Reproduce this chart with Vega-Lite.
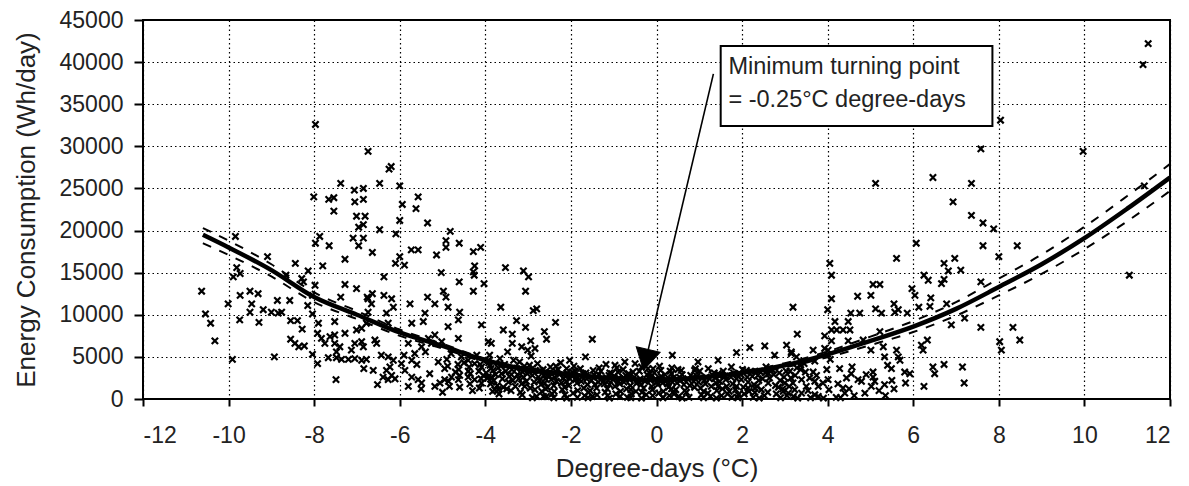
{
  "$schema": "https://vega.github.io/schema/vega-lite/v6.json",
  "width": 1027,
  "height": 379,
  "autosize": {"type": "none"},
  "padding": {"left": 143, "top": 20, "right": 19, "bottom": 87},
  "background": "white",
  "config": {
    "view": {"stroke": "black", "strokeWidth": 2},
    "axis": {
      "grid": true,
      "gridColor": "black",
      "gridDash": [1.5, 3],
      "gridWidth": 1.2,
      "gridOpacity": 1,
      "domain": false,
      "tickColor": "black",
      "tickWidth": 2,
      "labelFont": "Liberation Sans",
      "labelFontSize": 23,
      "labelColor": "#222",
      "labelExpr": "datum.value + ''",
      "titleFont": "Liberation Sans",
      "titleFontSize": 26,
      "titleFontWeight": "normal",
      "titleColor": "#222"
    }
  },
  "datasets": {
    "pts": [
      {"x":-7.97,"y":32600},{"x":-6.74,"y":29400},{"x":-6.25,"y":27300},{"x":-6.2,"y":27600},{"x":-7.38,"y":25600},{"x":-7.06,"y":24800},{"x":-6.85,"y":25000},{"x":-6.47,"y":25600},{"x":-6.0,"y":25300},{"x":-8.01,"y":24000},{"x":-7.66,"y":23700},{"x":-7.54,"y":23900},{"x":-7.05,"y":23400},{"x":-6.85,"y":23700},{"x":-5.94,"y":23100},{"x":-5.57,"y":24000},{"x":-5.62,"y":22600},{"x":-7.54,"y":22300},{"x":-7.01,"y":21700},{"x":-6.81,"y":21700},{"x":-6.96,"y":20400},{"x":-6.85,"y":20700},{"x":-6.0,"y":21200},{"x":-5.35,"y":20900},{"x":-6.47,"y":20100},{"x":-7.87,"y":19300},{"x":-7.97,"y":18500},{"x":-7.65,"y":18200},{"x":-7.09,"y":19100},{"x":-6.85,"y":19100},{"x":-6.96,"y":18200},{"x":-6.09,"y":19600},{"x":-6.64,"y":17400},{"x":-5.73,"y":17700},{"x":-5.57,"y":17700},{"x":-6.0,"y":16900},{"x":-6.1,"y":16100},{"x":-5.89,"y":15900},{"x":-5.14,"y":17100},{"x":-4.92,"y":18800},{"x":-4.92,"y":18000},{"x":-4.82,"y":19900},{"x":-4.61,"y":18500},{"x":-4.28,"y":17500},{"x":-4.11,"y":18000},{"x":-4.28,"y":15100},{"x":-4.25,"y":15800},{"x":-4.26,"y":14700},{"x":-4.03,"y":13700},{"x":-4.28,"y":12800},{"x":-4.61,"y":13900},{"x":-5.03,"y":15000},{"x":-4.98,"y":12800},{"x":-4.92,"y":12100},{"x":-5.35,"y":12100},{"x":-6.37,"y":14500},{"x":-7.28,"y":16600},{"x":-7.8,"y":15800},{"x":-7.28,"y":13600},{"x":-7.01,"y":13100},{"x":-6.64,"y":12500},{"x":-6.37,"y":12300},{"x":-7.38,"y":12100},{"x":-6.76,"y":12100},{"x":-8.44,"y":16100},{"x":-9.09,"y":16900},{"x":-9.84,"y":19300},{"x":-10.63,"y":12800},{"x":-9.73,"y":12300},{"x":-9.5,"y":12800},{"x":-9.31,"y":12500},{"x":-9.89,"y":14500},{"x":-9.81,"y":15600},{"x":-9.73,"y":14900},{"x":-8.66,"y":14700},{"x":-8.14,"y":15200},{"x":-8.29,"y":14300},{"x":-8.25,"y":13900},{"x":-7.98,"y":13500},
      {"x":-10.01,"y":11300},{"x":-9.46,"y":11300},{"x":-9.5,"y":10300},{"x":-10.54,"y":10100},{"x":-10.42,"y":9000},{"x":-10.32,"y":6900},{"x":-9.91,"y":4700},{"x":-9.74,"y":9400},{"x":-9.29,"y":9100},{"x":-9.19,"y":10600},{"x":-8.86,"y":11700},{"x":-8.57,"y":11700},{"x":-9.0,"y":10300},{"x":-8.84,"y":10200},{"x":-8.76,"y":10300},{"x":-8.55,"y":9300},{"x":-8.39,"y":9300},{"x":-8.28,"y":8300},{"x":-8.55,"y":7100},{"x":-8.45,"y":6600},{"x":-8.36,"y":6200},{"x":-8.23,"y":6300},{"x":-8.93,"y":5000},{"x":-8.04,"y":5300},{"x":-7.92,"y":4200},{"x":-7.49,"y":2300},{"x":-8.15,"y":11100},{"x":-8.04,"y":10100},{"x":-8.04,"y":12300},{"x":-7.9,"y":9000},{"x":-7.92,"y":7800},{"x":-7.83,"y":7200},{"x":-7.75,"y":6600},{"x":-7.52,"y":9200},{"x":-7.52,"y":7600},{"x":-7.63,"y":7400},{"x":-7.52,"y":6600},{"x":-7.4,"y":6200},{"x":-7.48,"y":5600},{"x":-7.67,"y":4900},{"x":-7.48,"y":4900},{"x":-7.36,"y":4700},{"x":-7.2,"y":4700},{"x":-7.05,"y":4800},{"x":-6.89,"y":4600},{"x":-6.78,"y":4700},{"x":-7.28,"y":7800},{"x":-7.05,"y":6600},{"x":-6.89,"y":6800},{"x":-6.85,"y":6200},{"x":-7.13,"y":5800},{"x":-7.01,"y":8200},{"x":-6.89,"y":8400},{"x":-6.78,"y":9000},{"x":-6.74,"y":10300},{"x":-6.74,"y":11900},{"x":-6.66,"y":11300},{"x":-6.19,"y":11900},{"x":-6.15,"y":10900},{"x":-6.31,"y":10200},{"x":-6.27,"y":9000},{"x":-6.58,"y":7000},{"x":-6.54,"y":6600},{"x":-6.43,"y":5200},{"x":-6.27,"y":5000},{"x":-6.15,"y":4600},{"x":-6.23,"y":3800},{"x":-6.31,"y":3400},{"x":-6.19,"y":2800},{"x":-6.11,"y":2400},{"x":-6.39,"y":2600},{"x":-6.27,"y":2300},{"x":-6.52,"y":1700},{"x":-6.84,"y":3600},{"x":-6.62,"y":3400},{"x":-5.76,"y":11300},{"x":-5.72,"y":9000},{"x":-5.45,"y":9200},{"x":-5.41,"y":10200},{"x":-5.18,"y":11300},{"x":-4.87,"y":10900},{"x":-4.6,"y":10300},{"x":-4.63,"y":9400},{"x":-4.87,"y":8600},{"x":-4.63,"y":7200},{"x":-5.18,"y":7600},{"x":-5.33,"y":7200},{"x":-5.26,"y":6600},{"x":-5.02,"y":6800},{"x":-5.8,"y":6600},{"x":-5.65,"y":5400},{"x":-5.49,"y":6200},{"x":-5.72,"y":4600},{"x":-5.96,"y":4200},{"x":-5.88,"y":3400},{"x":-5.72,"y":2600},{"x":-5.57,"y":2300},{"x":-5.8,"y":1500},{"x":-5.49,"y":1900},{"x":-5.18,"y":1500},{"x":-5.06,"y":1900},{"x":-4.95,"y":2300},{"x":-4.79,"y":2600},{"x":-4.63,"y":2300},{"x":-4.4,"y":2600},{"x":-4.25,"y":2300},{"x":-4.09,"y":1900},{"x":-3.93,"y":2600},{"x":-3.78,"y":1100},{"x":-4.56,"y":5000},{"x":-4.4,"y":4600},{"x":-4.25,"y":4200},{"x":-4.09,"y":3800},{"x":-3.93,"y":4600},{"x":-3.82,"y":3400},{"x":-3.93,"y":6800},{"x":-4.09,"y":8800},{"x":-3.86,"y":6600},
      {"x":-5.9,"y":5200},{"x":-5.6,"y":4100},{"x":-5.4,"y":5600},{"x":-5.3,"y":3000},{"x":-5.1,"y":4400},{"x":-4.95,"y":3600},{"x":-4.8,"y":5400},{"x":-4.7,"y":3200},{"x":-4.5,"y":4300},{"x":-4.35,"y":3000},{"x":-4.2,"y":5200},{"x":-4.15,"y":3300},{"x":-4.05,"y":2800},{"x":-5.5,"y":1200},{"x":-5.0,"y":800},{"x":-4.6,"y":1400},{"x":-4.3,"y":1000},
      {"x":-3.53,"y":15600},{"x":-3.11,"y":15200},{"x":-2.99,"y":14500},{"x":-3.06,"y":12800},{"x":-3.64,"y":10900},{"x":-2.88,"y":10500},{"x":-2.8,"y":10700},{"x":-3.27,"y":9300},{"x":-2.36,"y":9100},{"x":-3.58,"y":8200},{"x":-3.37,"y":7700},{"x":-3.06,"y":8500},{"x":-2.62,"y":8000},{"x":-2.57,"y":7100},{"x":-3.37,"y":6600},{"x":-3.15,"y":6200},{"x":-2.94,"y":6900},{"x":-2.84,"y":6000},{"x":-3.01,"y":5800},{"x":-1.5,"y":7100},{"x":-1.66,"y":5000},{"x":-2.03,"y":4600},{"x":0.37,"y":5200},{"x":0.97,"y":4400},{"x":1.44,"y":4600},{"x":1.87,"y":5500},{"x":1.75,"y":3800},{"x":3.19,"y":10900},{"x":2.18,"y":6100},{"x":2.53,"y":6300},{"x":2.76,"y":5200},{"x":3.04,"y":6400},{"x":3.15,"y":5600},{"x":3.27,"y":5000},{"x":3.29,"y":7700},{"x":-0.97,"y":4000},{"x":-0.74,"y":4400},{"x":-0.08,"y":3600},{"x":0.35,"y":3000},{"x":0.58,"y":3400},{"x":0.89,"y":3400},{"x":1.21,"y":3600},{"x":1.44,"y":3000},{"x":1.44,"y":1500},{"x":1.87,"y":1500},{"x":2.14,"y":1300},{"x":2.3,"y":1300},{"x":2.61,"y":1900},{"x":2.96,"y":900},{"x":3.19,"y":1900},{"x":-3.7,"y":1100},{"x":-3.08,"y":1500},{"x":-2.8,"y":300},{"x":-2.57,"y":300},{"x":-3.86,"y":2600},
      {"x":8.04,"y":33100},{"x":7.58,"y":29700},{"x":6.46,"y":26300},{"x":5.12,"y":25600},{"x":7.36,"y":25600},{"x":6.93,"y":23400},{"x":7.36,"y":21800},{"x":7.63,"y":20900},{"x":7.88,"y":20200},{"x":6.07,"y":18500},{"x":7.63,"y":18200},{"x":8.43,"y":18200},{"x":5.61,"y":16700},{"x":6.97,"y":16700},{"x":8.0,"y":16900},
      {"x":4.05,"y":16100},{"x":4.09,"y":14700},{"x":6.72,"y":16100},{"x":7.11,"y":15300},{"x":6.82,"y":15200},{"x":6.72,"y":14200},{"x":6.66,"y":13700},{"x":6.25,"y":14700},{"x":6.35,"y":14100},{"x":7.58,"y":13900},{"x":5.06,"y":13600},{"x":5.22,"y":13600},{"x":4.7,"y":12200},{"x":5.01,"y":12300},{"x":4.09,"y":11900},{"x":4.0,"y":10600},{"x":5.97,"y":13100},{"x":6.04,"y":12300},{"x":6.41,"y":12000},{"x":6.39,"y":11000},{"x":5.55,"y":11300},{"x":5.65,"y":10600},{"x":5.57,"y":10300},{"x":5.12,"y":10700},{"x":5.26,"y":10200},{"x":5.86,"y":10200},{"x":6.13,"y":10900},{"x":6.78,"y":11300},{"x":4.54,"y":10200},{"x":4.75,"y":10200},{"x":7.2,"y":9600},{"x":6.89,"y":8800},{"x":7.58,"y":8500},{"x":8.33,"y":8500},{"x":4.17,"y":9200},{"x":4.09,"y":8200},{"x":4.21,"y":8200},{"x":4.36,"y":8200},{"x":4.52,"y":8200},{"x":4.48,"y":9200},{"x":3.93,"y":7500},{"x":4.09,"y":6900},{"x":4.48,"y":6900},{"x":4.83,"y":7000},{"x":5.22,"y":8000},{"x":6.33,"y":7000},{"x":6.19,"y":6400},{"x":6.23,"y":5800},{"x":8.02,"y":6800},{"x":8.06,"y":5800},{"x":8.49,"y":7000},{"x":3.15,"y":5400},{"x":3.66,"y":5800},{"x":3.93,"y":6000},{"x":4.57,"y":3800},{"x":4.01,"y":5800},{"x":5.01,"y":5800},{"x":5.3,"y":6200},{"x":5.33,"y":5000},{"x":5.61,"y":5800},{"x":5.65,"y":5000},{"x":5.69,"y":4600},{"x":5.4,"y":4000},{"x":5.49,"y":3600},{"x":5.8,"y":3200},{"x":5.92,"y":3000},{"x":5.82,"y":1900},{"x":5.33,"y":1700},{"x":6.46,"y":3800},{"x":6.5,"y":3000},{"x":6.72,"y":4100},{"x":7.15,"y":3800},{"x":7.19,"y":1900},{"x":6.25,"y":1500},{"x":5.06,"y":3200},{"x":5.06,"y":2600},{"x":5.1,"y":2100},{"x":5.02,"y":1500},{"x":4.87,"y":700},{"x":4.79,"y":2100},{"x":4.71,"y":2300},{"x":4.44,"y":2500},{"x":4.36,"y":1300},{"x":4.4,"y":700},{"x":3.78,"y":1500},{"x":3.7,"y":2100},{"x":3.58,"y":2500},{"x":3.5,"y":1500},{"x":3.39,"y":700},{"x":3.23,"y":1100},{"x":3.0,"y":1900},{"x":4.01,"y":2300},{"x":3.7,"y":500},{"x":3.89,"y":1900},{"x":3.66,"y":3200},{"x":3.08,"y":700},
      {"x":11.49,"y":42200},{"x":11.37,"y":39700},{"x":9.97,"y":29400},{"x":11.4,"y":25300},{"x":11.05,"y":14700},
      {"x":-3.98,"y":3100},{"x":-3.92,"y":4300},{"x":-3.88,"y":1800},{"x":-3.95,"y":2500},{"x":-3.9,"y":5200},
      {"x":-3.76,"y":2900},{"x":-3.7,"y":3700},{"x":-3.72,"y":1600},{"x":-3.66,"y":4800},{"x":-3.8,"y":2200},{"x":-3.68,"y":600},
      {"x":-3.52,"y":3300},{"x":-3.46,"y":2000},{"x":-3.55,"y":4100},{"x":-3.44,"y":2700},{"x":-3.5,"y":1200},{"x":-3.48,"y":5600},
      {"x":-3.27,"y":3600},{"x":-3.22,"y":2400},{"x":-3.3,"y":1500},{"x":-3.2,"y":4400},{"x":-3.25,"y":2900},{"x":-3.18,"y":800},
      {"x":-3.02,"y":3000},{"x":-2.97,"y":4000},{"x":-3.04,"y":2100},{"x":-2.95,"y":1300},{"x":-2.99,"y":3500},{"x":-2.93,"y":5100},
      {"x":-2.76,"y":2600},{"x":-2.72,"y":3400},{"x":-2.7,"y":1700},{"x":-2.78,"y":4200},{"x":-2.68,"y":900},{"x":-2.74,"y":2200},
      {"x":-2.52,"y":3100},{"x":-2.46,"y":2300},{"x":-2.55,"y":1400},{"x":-2.48,"y":3800},{"x":-2.44,"y":600},{"x":-2.5,"y":2700},
      {"x":-2.27,"y":2900},{"x":-2.22,"y":1900},{"x":-2.3,"y":3500},{"x":-2.2,"y":1100},{"x":-2.24,"y":4300},{"x":-2.18,"y":2500},
      {"x":-2.02,"y":2400},{"x":-1.97,"y":3200},{"x":-2.05,"y":1600},{"x":-1.95,"y":700},{"x":-1.99,"y":2800},{"x":-1.93,"y":3900},
      {"x":-1.76,"y":2100},{"x":-1.72,"y":3000},{"x":-1.7,"y":1300},{"x":-1.78,"y":3600},{"x":-1.68,"y":400},{"x":-1.74,"y":2600},
      {"x":-1.52,"y":2200},{"x":-1.46,"y":2900},{"x":-1.55,"y":1000},{"x":-1.48,"y":3400},{"x":-1.44,"y":1700},{"x":-1.5,"y":300},
      {"x":-1.27,"y":2500},{"x":-1.22,"y":1800},{"x":-1.3,"y":3300},{"x":-1.2,"y":800},{"x":-1.24,"y":2100},{"x":-1.18,"y":4100},
      {"x":-1.02,"y":2300},{"x":-0.97,"y":1500},{"x":-1.05,"y":3000},{"x":-0.95,"y":600},{"x":-0.99,"y":2700},{"x":-0.93,"y":3700},
      {"x":-0.76,"y":2000},{"x":-0.72,"y":2800},{"x":-0.7,"y":1200},{"x":-0.78,"y":3500},{"x":-0.68,"y":200},{"x":-0.74,"y":2400},
      {"x":-0.52,"y":2600},{"x":-0.46,"y":1900},{"x":-0.55,"y":3200},{"x":-0.48,"y":900},{"x":-0.44,"y":2200},{"x":-0.5,"y":4200},
      {"x":-0.27,"y":2100},{"x":-0.22,"y":2900},{"x":-0.3,"y":1300},{"x":-0.2,"y":3600},{"x":-0.24,"y":500},{"x":-0.18,"y":2500},
      {"x":-0.02,"y":2400},{"x":0.03,"y":1700},{"x":-0.05,"y":3100},{"x":0.05,"y":700},{"x":0.01,"y":2000},{"x":0.07,"y":3900},
      {"x":0.24,"y":2200},{"x":0.28,"y":1400},{"x":0.2,"y":2900},{"x":0.3,"y":400},{"x":0.26,"y":1800},{"x":0.32,"y":3300},
      {"x":0.48,"y":1900},{"x":0.54,"y":2600},{"x":0.45,"y":1100},{"x":0.52,"y":300},{"x":0.56,"y":2200},{"x":0.5,"y":3500},
      {"x":0.74,"y":2300},{"x":0.78,"y":1600},{"x":0.7,"y":800},{"x":0.8,"y":2800},{"x":0.76,"y":200},
      {"x":0.98,"y":2000},{"x":1.03,"y":1300},{"x":0.95,"y":2700},{"x":1.05,"y":500},{"x":1.01,"y":3300},
      {"x":1.24,"y":2400},{"x":1.28,"y":1500},{"x":1.2,"y":700},{"x":1.3,"y":2900},{"x":1.26,"y":300},
      {"x":1.48,"y":2100},{"x":1.54,"y":1200},{"x":1.45,"y":2800},{"x":1.52,"y":400},{"x":1.56,"y":3300},
      {"x":1.74,"y":2600},{"x":1.78,"y":1800},{"x":1.7,"y":900},{"x":1.8,"y":3100},{"x":1.76,"y":200},
      {"x":1.98,"y":2300},{"x":2.03,"y":1400},{"x":1.95,"y":3000},{"x":2.05,"y":600},{"x":2.01,"y":3500},
      {"x":2.24,"y":2700},{"x":2.28,"y":1700},{"x":2.2,"y":3300},{"x":2.3,"y":800},{"x":2.26,"y":200},
      {"x":2.48,"y":2400},{"x":2.54,"y":3100},{"x":2.45,"y":1100},{"x":2.52,"y":400},{"x":2.56,"y":3800},
      {"x":2.74,"y":2900},{"x":2.78,"y":1600},{"x":2.7,"y":3500},{"x":2.8,"y":600},
      {"x":2.98,"y":2600},{"x":3.03,"y":3300},{"x":2.95,"y":1200},{"x":3.05,"y":400},
      {"x":3.24,"y":2800},{"x":3.28,"y":3700},{"x":3.2,"y":300},
      {"x":3.48,"y":3200},{"x":3.54,"y":1000},{"x":3.45,"y":4200},
      {"x":3.74,"y":2800},{"x":3.78,"y":300},{"x":3.7,"y":4500},
      {"x":3.98,"y":3500},{"x":4.03,"y":1100},{"x":4.06,"y":4700},
      {"x":4.24,"y":1800},{"x":4.28,"y":3600},{"x":4.2,"y":200},
      {"x":4.5,"y":1200},{"x":4.55,"y":3000},{"x":4.62,"y":400},
      {"x":4.9,"y":2900},{"x":5.2,"y":1000},{"x":5.35,"y":400},{"x":5.5,"y":2200},{"x":5.55,"y":1200},
      {"x":-4.88,"y":3900},{"x":-4.86,"y":2100},{"x":-4.9,"y":4700},{"x":-4.84,"y":1500},
      {"x":-4.62,"y":3500},{"x":-4.6,"y":2800},{"x":-4.64,"y":4100},
      {"x":-4.38,"y":3800},{"x":-4.36,"y":1800},{"x":-4.4,"y":3300},
      {"x":-4.12,"y":4100},{"x":-4.1,"y":2400},{"x":-4.14,"y":1300},
      {"x":-3.87,"y":3600},{"x":-3.85,"y":2000},{"x":-3.89,"y":4000},{"x":-3.83,"y":900},
      {"x":-3.62,"y":3000},{"x":-3.6,"y":2400},{"x":-3.64,"y":3900},{"x":-3.58,"y":1400},
      {"x":-3.38,"y":3500},{"x":-3.36,"y":2200},{"x":-3.4,"y":1000},{"x":-3.34,"y":4600},{"x":-3.39,"y":2900},
      {"x":-3.13,"y":3200},{"x":-3.11,"y":2600},{"x":-3.15,"y":1800},{"x":-3.09,"y":3900},{"x":-3.14,"y":500},
      {"x":-2.88,"y":3300},{"x":-2.86,"y":2000},{"x":-2.9,"y":2800},{"x":-2.84,"y":1100},{"x":-2.89,"y":3700},
      {"x":-2.63,"y":2800},{"x":-2.61,"y":1900},{"x":-2.65,"y":3500},{"x":-2.59,"y":1200},{"x":-2.64,"y":300},{"x":-2.6,"y":2400},
      {"x":-2.38,"y":2600},{"x":-2.36,"y":3300},{"x":-2.4,"y":1600},{"x":-2.34,"y":2100},{"x":-2.39,"y":900},{"x":-2.35,"y":3900},
      {"x":-2.13,"y":2700},{"x":-2.11,"y":2100},{"x":-2.15,"y":1400},{"x":-2.09,"y":3100},{"x":-2.14,"y":500},{"x":-2.1,"y":3600},
      {"x":-1.88,"y":2500},{"x":-1.86,"y":1900},{"x":-1.9,"y":3300},{"x":-1.84,"y":1000},{"x":-1.89,"y":2300},{"x":-1.85,"y":200},
      {"x":-1.63,"y":2400},{"x":-1.61,"y":1700},{"x":-1.65,"y":3100},{"x":-1.59,"y":800},{"x":-1.64,"y":2800},
      {"x":-1.38,"y":2600},{"x":-1.36,"y":2000},{"x":-1.4,"y":1300},{"x":-1.34,"y":3700},{"x":-1.39,"y":500},{"x":-1.35,"y":2900},
      {"x":-1.13,"y":2200},{"x":-1.11,"y":2800},{"x":-1.15,"y":1200},{"x":-1.09,"y":3100},{"x":-1.14,"y":400},{"x":-1.1,"y":1700},
      {"x":-0.88,"y":2500},{"x":-0.86,"y":1800},{"x":-0.9,"y":3200},{"x":-0.84,"y":900},{"x":-0.89,"y":2100},{"x":-0.85,"y":300},
      {"x":-0.63,"y":2300},{"x":-0.61,"y":1600},{"x":-0.65,"y":3000},{"x":-0.59,"y":600},{"x":-0.64,"y":2700},{"x":-0.6,"y":1100},
      {"x":-0.38,"y":2400},{"x":-0.36,"y":1700},{"x":-0.4,"y":3300},{"x":-0.34,"y":800},{"x":-0.39,"y":2000},{"x":-0.35,"y":3800},
      {"x":-0.13,"y":2600},{"x":-0.11,"y":1500},{"x":-0.15,"y":3000},{"x":-0.09,"y":400},{"x":-0.14,"y":2200},{"x":-0.1,"y":1100},
      {"x":0.12,"y":2300},{"x":0.14,"y":1900},{"x":0.1,"y":3400},{"x":0.16,"y":900},{"x":0.11,"y":2700},{"x":0.15,"y":200},
      {"x":0.37,"y":2000},{"x":0.39,"y":2500},{"x":0.35,"y":1200},{"x":0.41,"y":600},{"x":0.36,"y":3700},
      {"x":0.62,"y":2400},{"x":0.64,"y":1700},{"x":0.6,"y":2900},{"x":0.66,"y":1000},
      {"x":0.87,"y":2100},{"x":0.89,"y":1400},{"x":0.85,"y":2600},{"x":0.91,"y":3600},
      {"x":1.12,"y":2200},{"x":1.14,"y":1800},{"x":1.1,"y":900},{"x":1.16,"y":2600},
      {"x":1.37,"y":2500},{"x":1.39,"y":1900},{"x":1.35,"y":3100},{"x":1.41,"y":1000},
      {"x":1.62,"y":2300},{"x":1.64,"y":1500},{"x":1.6,"y":2700},{"x":1.66,"y":600},
      {"x":1.87,"y":2400},{"x":1.89,"y":2900},{"x":1.85,"y":1100},{"x":1.91,"y":500},
      {"x":2.12,"y":2600},{"x":2.14,"y":2000},{"x":2.1,"y":3400},{"x":2.16,"y":900},
      {"x":2.37,"y":2800},{"x":2.39,"y":2200},{"x":2.35,"y":1500},{"x":2.41,"y":3300},
      {"x":2.62,"y":3000},{"x":2.64,"y":2500},{"x":2.6,"y":800},{"x":2.66,"y":3500},
      {"x":2.87,"y":3100},{"x":2.89,"y":2200},{"x":2.85,"y":1400},
      {"x":3.12,"y":3300},{"x":3.14,"y":2500},{"x":3.1,"y":1500},
      {"x":3.37,"y":3500},{"x":3.39,"y":2300},{"x":3.35,"y":4000},
      {"x":-2.9,"y":150},{"x":-2.4,"y":150},{"x":-2.1,"y":100},{"x":-1.6,"y":150},{"x":-1.1,"y":100},{"x":-0.6,"y":150},{"x":-0.35,"y":100},{"x":0.15,"y":150},{"x":0.6,"y":100},{"x":1.1,"y":150},{"x":1.4,"y":100},{"x":1.9,"y":150},{"x":2.4,"y":100},{"x":2.9,"y":150},{"x":3.3,"y":100},{"x":3.6,"y":150},{"x":3.9,"y":100},{"x":4.3,"y":150}
    ],
    "fit": [
      {"x":-10.6,"fit":19500,"lo":18500,"hi":20300},
      {"x":-10,"fit":18000,"lo":17100,"hi":18800},
      {"x":-9,"fit":15300,"lo":14550,"hi":16000},
      {"x":-8,"fit":12100,"lo":11500,"hi":12650},
      {"x":-7,"fit":10000,"lo":9500,"hi":10450},
      {"x":-6,"fit":7900,"lo":7500,"hi":8250},
      {"x":-5,"fit":6300,"lo":6000,"hi":6550},
      {"x":-4,"fit":4600,"lo":4350,"hi":4800},
      {"x":-3,"fit":3500,"lo":3300,"hi":3650},
      {"x":-2,"fit":2900,"lo":2750,"hi":3000},
      {"x":-1,"fit":2450,"lo":2350,"hi":2550},
      {"x":-0.25,"fit":2300,"lo":2200,"hi":2400},
      {"x":0.5,"fit":2380,"lo":2280,"hi":2480},
      {"x":1,"fit":2550,"lo":2430,"hi":2670},
      {"x":2,"fit":3100,"lo":2900,"hi":3300},
      {"x":3,"fit":4000,"lo":3750,"hi":4250},
      {"x":4,"fit":5300,"lo":4950,"hi":5650},
      {"x":5,"fit":6900,"lo":6400,"hi":7400},
      {"x":6,"fit":8600,"lo":7950,"hi":9250},
      {"x":7,"fit":10700,"lo":9900,"hi":11500},
      {"x":8,"fit":13300,"lo":12300,"hi":14300},
      {"x":9,"fit":16000,"lo":14850,"hi":17150},
      {"x":10,"fit":19100,"lo":17800,"hi":20450},
      {"x":11,"fit":22600,"lo":21100,"hi":24100},
      {"x":12,"fit":26300,"lo":24700,"hi":27900}
    ],
    "box": [{"x1":1.5,"x2":7.85,"y1":41900,"y2":32400}],
    "txt": [
      {"x":1.68,"y":38600,"t":"Minimum turning point"},
      {"x":1.68,"y":34700,"t":"= -0.25°C degree-days"}
    ],
    "arrow": [{"x1":1.33,"y1":38600,"x2":-0.25,"y2":4650}]
  },
  "layer": [
    {
      "data": {"name": "pts"},
      "mark": {"type": "point", "shape": "M-1,-1L1,1M-1,1L1,-1", "filled": false, "stroke": "black", "strokeWidth": 2.2, "size": 40, "opacity": 1},
      "encoding": {
        "x": {"field": "x", "type": "quantitative", "scale": {"domain": [-12, 12], "nice": false, "zero": false},
          "axis": {"values": [-12,-10,-8,-6,-4,-2,0,2,4,6,8,10,12], "tickSize": 7, "labelPadding": 18, "title": "Degree-days (°C)", "titlePadding": 8}},
        "y": {"field": "y", "type": "quantitative", "scale": {"domain": [0, 45000], "nice": false},
          "axis": {"values": [0,5000,10000,15000,20000,25000,30000,35000,40000,45000], "tickSize": 9, "labelPadding": 11, "title": "Energy Consumption (Wh/day)", "titlePadding": 20}}
      }
    },
    {
      "data": {"name": "fit"},
      "mark": {"type": "line", "stroke": "black", "strokeWidth": 2, "strokeDash": [9, 9], "interpolate": "monotone"},
      "encoding": {"x": {"field": "x", "type": "quantitative"}, "y": {"field": "lo", "type": "quantitative"}}
    },
    {
      "data": {"name": "fit"},
      "mark": {"type": "line", "stroke": "black", "strokeWidth": 2, "strokeDash": [9, 9], "interpolate": "monotone"},
      "encoding": {"x": {"field": "x", "type": "quantitative"}, "y": {"field": "hi", "type": "quantitative"}}
    },
    {
      "data": {"name": "fit"},
      "mark": {"type": "line", "stroke": "black", "strokeWidth": 4.5, "interpolate": "monotone"},
      "encoding": {"x": {"field": "x", "type": "quantitative"}, "y": {"field": "fit", "type": "quantitative"}}
    },
    {
      "data": {"name": "box"},
      "mark": {"type": "rect", "fill": "white", "stroke": "black", "strokeWidth": 2},
      "encoding": {
        "x": {"field": "x1", "type": "quantitative"}, "x2": {"field": "x2"},
        "y": {"field": "y1", "type": "quantitative"}, "y2": {"field": "y2"}
      }
    },
    {
      "data": {"name": "txt"},
      "mark": {"type": "text", "align": "left", "baseline": "alphabetic", "font": "Liberation Sans", "fontSize": 23.5, "color": "#222"},
      "encoding": {
        "x": {"field": "x", "type": "quantitative"},
        "y": {"field": "y", "type": "quantitative"},
        "text": {"field": "t", "type": "nominal"}
      }
    },
    {
      "data": {"name": "arrow"},
      "mark": {"type": "rule", "stroke": "black", "strokeWidth": 1.6},
      "encoding": {
        "x": {"field": "x1", "type": "quantitative"}, "y": {"field": "y1", "type": "quantitative"},
        "x2": {"field": "x2"}, "y2": {"field": "y2"}
      }
    },
    {
      "data": {"name": "arrow"},
      "mark": {"type": "point", "shape": "triangle-down", "filled": true, "fill": "black", "stroke": "black", "strokeWidth": 1, "size": 600, "angle": 13, "opacity": 1},
      "encoding": {"x": {"field": "x2", "type": "quantitative"}, "y": {"field": "y2", "type": "quantitative"}}
    }
  ]
}
